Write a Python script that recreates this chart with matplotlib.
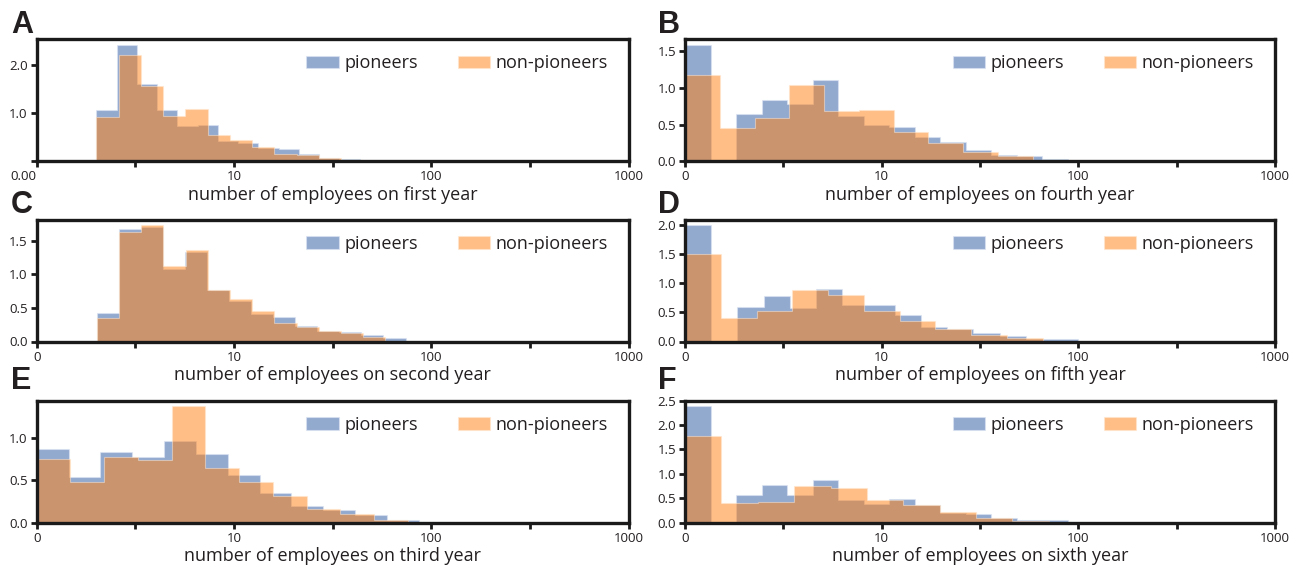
import numpy as np
import matplotlib
matplotlib.use("Agg")
import matplotlib.pyplot as plt

plt.rcParams['font.family'] = ['Open Sans', 'DejaVu Sans']
TXT = '#231f20'

# ---- data: histogram heights (density) and log10 bin ranges ----
x_tick_labels = ["0", "", "10", "", "100", "", "1000"]
legend_labels = ["pioneers", "non-pioneers"]
panel_letters = ["A", "B", "C", "D", "E", "F"]
x_labels = ["number of employees on first year", "number of employees on fourth year",
            "number of employees on second year", "number of employees on fifth year",
            "number of employees on third year", "number of employees on sixth year"]

a_pio_range = (0.303, 1.636)
a_pio = [1.06, 2.42, 1.62, 1.06, 0.74, 0.76, 0.42, 0.39, 0.28, 0.25, 0.15, 0.07, 0.04]
a_non_range = (0.303, 1.656)
a_non = [0.93, 2.22, 1.57, 0.95, 1.08, 0.54, 0.44, 0.29, 0.15, 0.14, 0.07, 0.03]

b_pio_range = (0.0, 1.946)
b_pio = [1.58, 0.0, 0.65, 0.84, 0.78, 1.10, 0.62, 0.50, 0.47, 0.33, 0.26, 0.15, 0.08, 0.07, 0.03]
b_non_range = (0.0, 1.767)
b_non = [1.17, 0.45, 0.59, 1.04, 0.68, 0.70, 0.40, 0.25, 0.13, 0.07]

c_pio_range = (0.304, 1.869)
c_pio = [0.43, 1.68, 1.70, 1.08, 1.34, 0.76, 0.61, 0.41, 0.37, 0.23, 0.16, 0.14, 0.09, 0.05]
c_non_range = (0.304, 1.767)
c_non = [0.35, 1.63, 1.73, 1.12, 1.36, 0.76, 0.63, 0.45, 0.27, 0.22, 0.16, 0.12, 0.07]

d_pio_range = (0.0, 2.0)
d_pio = [2.00, 0.0, 0.59, 0.79, 0.57, 0.91, 0.62, 0.62, 0.45, 0.25, 0.22, 0.14, 0.09, 0.04, 0.05]
d_non_range = (0.0, 1.818)
d_non = [1.50, 0.41, 0.52, 0.88, 0.80, 0.53, 0.35, 0.22, 0.12, 0.06]

e_pio_range = (0.0, 2.097)
e_pio = [0.87, 0.54, 0.83, 0.77, 0.96, 0.81, 0.56, 0.35, 0.20, 0.15, 0.09, 0.03, 0.01]
e_non_range = (0.0, 1.88)
e_non = [0.75, 0.48, 0.77, 0.74, 1.37, 0.64, 0.48, 0.31, 0.16, 0.10, 0.03]

f_pio_range = (0.0, 2.077)
f_pio = [2.38, 0.0, 0.57, 0.76, 0.57, 0.88, 0.47, 0.37, 0.49, 0.35, 0.19, 0.17, 0.09, 0.05, 0.05, 0.02]
f_non_range = (0.0, 1.85)
f_non = [1.78, 0.39, 0.42, 0.74, 0.71, 0.47, 0.35, 0.21, 0.10, 0.04]

y_ticks = [[0, 1.0, 2.0], [0, 0.5, 1.0, 1.5], [0, 0.5, 1.0, 1.5], [0, 0.5, 1.0, 1.5, 2.0],
           [0, 0.5, 1.0], [0, 0.5, 1.0, 1.5, 2.0, 2.5]]

panels = [(a_pio_range, a_pio, a_non_range, a_non),
          (b_pio_range, b_pio, b_non_range, b_non),
          (c_pio_range, c_pio, c_non_range, c_non),
          (d_pio_range, d_pio, d_non_range, d_non),
          (e_pio_range, e_pio, e_non_range, e_non),
          (f_pio_range, f_pio, f_non_range, f_non)]

W, H = 1297, 572
fig = plt.figure(figsize=(W / 100, H / 100), dpi=100)

col_x = [36.7, 685]
col_w = [592, 590]
row_top = [39.3, 219.5, 400.5]
letter_base = [33, 213, 389]
letter_x = [11, 658]
ax_h = 122

for i, (pr, pv, nr, nv) in enumerate(panels):
    r, c = divmod(i, 2)
    ax = fig.add_axes([col_x[c] / W, 1 - (row_top[r] + ax_h) / H, col_w[c] / W, ax_h / H])
    pe = np.linspace(pr[0], pr[1], len(pv) + 1)
    ne = np.linspace(nr[0], nr[1], len(nv) + 1)
    ax.hist(pe[:-1], bins=pe, weights=pv, histtype='stepfilled', color='#4c72b0', alpha=0.6,
            edgecolor='#dbe4f2', linewidth=0.8, label=legend_labels[0])
    ax.hist(ne[:-1], bins=ne, weights=nv, histtype='stepfilled', color='#ff7f0e', alpha=0.5,
            edgecolor='#ffe6cf', linewidth=0.8, label=legend_labels[1])
    ax.set_xlim(0, 3)
    ax.set_xticks([0, 0.5, 1, 1.5, 2, 2.5, 3])
    xl = list(x_tick_labels)
    if i == 0:
        xl[0] = "0.00"
    ax.set_xticklabels(xl)
    if i == 0:
        ax.get_xticklabels()[0].set_horizontalalignment('right')
        ax.get_xticklabels()[0].set_x(0.03)
    ax.set_yticks(y_ticks[i])
    ylabs = ["%.1f" % v for v in y_ticks[i]]
    if i == 0:
        ylabs[0] = ""
    ax.set_yticklabels(ylabs)
    for s in ax.spines.values():
        s.set_linewidth(2.4)
        s.set_color('#1a1a1a')
    ax.tick_params(axis='both', direction='out', length=4, width=2, colors='#1a1a1a',
                   labelsize=9.5, labelcolor=TXT)
    ax.tick_params(axis='x', pad=2.5)
    ax.tick_params(axis='y', pad=2.5)
    ax.set_xlabel(x_labels[i], fontsize=13, color=TXT, labelpad=2)
    ax.legend(loc='upper right', ncol=2, frameon=False, fontsize=13,
              handlelength=1.8, handleheight=0.7, handletextpad=0.3,
              columnspacing=2.2, bbox_to_anchor=(0.992, 1.01), labelcolor=TXT)
    fig.text(letter_x[c] / W, 1 - letter_base[r] / H, panel_letters[i],
             fontsize=22, fontweight='bold', color=TXT, ha='left', va='baseline',
             family=['Liberation Sans', 'DejaVu Sans'])

fig.savefig('out.png', dpi=100)
